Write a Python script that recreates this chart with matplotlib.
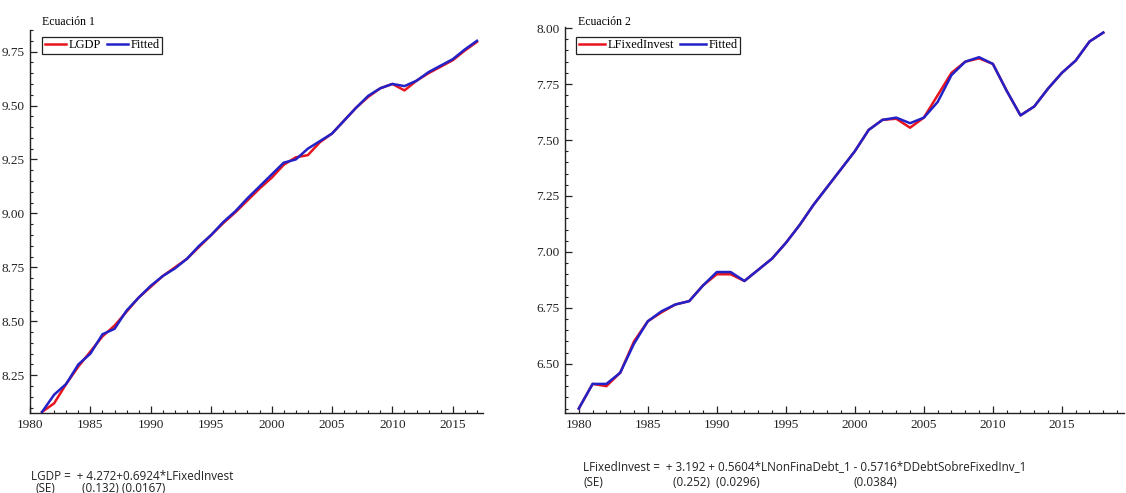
import numpy as np
import matplotlib
matplotlib.use("Agg")
import matplotlib.pyplot as plt
from matplotlib.ticker import MultipleLocator

# Ecuacion 1: LGDP vs fitted
years1 = list(range(1981, 2018))
lgdp = [8.08, 8.12, 8.21, 8.29, 8.36, 8.43, 8.48, 8.545, 8.61, 8.66,
        8.71, 8.75, 8.79, 8.845, 8.90, 8.955, 9.005, 9.06, 9.115, 9.165,
        9.225, 9.26, 9.27, 9.33, 9.37, 9.43, 9.49, 9.54, 9.58, 9.60,
        9.57, 9.615, 9.65, 9.68, 9.71, 9.755, 9.795]
fit1 = [8.08, 8.16, 8.21, 8.30, 8.35, 8.44, 8.465, 8.55, 8.61, 8.665,
        8.71, 8.745, 8.79, 8.85, 8.90, 8.96, 9.01, 9.07, 9.125, 9.18,
        9.235, 9.25, 9.30, 9.335, 9.37, 9.43, 9.49, 9.545, 9.58, 9.60,
        9.59, 9.615, 9.655, 9.685, 9.715, 9.76, 9.80]

# Ecuacion 2: LFixedInvest vs fitted
years2 = list(range(1980, 2019))
lfixed = [6.30, 6.41, 6.40, 6.46, 6.60, 6.69, 6.73, 6.765, 6.78, 6.85,
          6.90, 6.90, 6.87, 6.92, 6.97, 7.04, 7.12, 7.21, 7.29, 7.37,
          7.45, 7.545, 7.59, 7.595, 7.555, 7.60, 7.70, 7.80, 7.85, 7.865,
          7.84, 7.72, 7.61, 7.65, 7.73, 7.80, 7.855, 7.94, 7.98]
fit2 = [6.30, 6.41, 6.41, 6.46, 6.59, 6.69, 6.735, 6.765, 6.78, 6.85,
        6.91, 6.91, 6.87, 6.92, 6.97, 7.04, 7.12, 7.21, 7.29, 7.37,
        7.45, 7.545, 7.59, 7.60, 7.575, 7.60, 7.67, 7.79, 7.85, 7.87,
        7.84, 7.72, 7.61, 7.65, 7.73, 7.80, 7.855, 7.94, 7.98]

red = "#e8141e"
blue = "#2222c8"
serif = "Liberation Serif"
sans = "Open Sans"
ink = "#222222"

W, H = 1126, 493
fig = plt.figure(figsize=(W / 100, H / 100), dpi=100)
fig.patch.set_facecolor("white")


def setup(ax, xlim, ylim, yticks):
    ax.set_xlim(*xlim)
    ax.set_ylim(*ylim)
    for s in ["top", "right"]:
        ax.spines[s].set_visible(False)
    for s in ["left", "bottom"]:
        ax.spines[s].set_linewidth(1.0)
        ax.spines[s].set_color(ink)
    ax.xaxis.set_major_locator(MultipleLocator(5))
    ax.xaxis.set_minor_locator(MultipleLocator(1))
    ax.set_yticks(yticks)
    ax.yaxis.set_minor_locator(MultipleLocator(0.05))
    ax.yaxis.set_major_formatter(matplotlib.ticker.FormatStrFormatter("%.2f"))
    ax.tick_params(which="major", direction="in", length=5, width=0.9,
                   labelsize=9.5, pad=4, colors=ink)
    ax.tick_params(which="minor", direction="in", length=2.5, width=0.8,
                   colors=ink)
    for lab in ax.get_xticklabels() + ax.get_yticklabels():
        lab.set_fontfamily(serif)


# left panel
ax1 = fig.add_axes([30 / W, 80 / H, 453 / W, 383 / H])
ax1.plot(years1, lgdp, color=red, lw=1.8, label="LGDP", clip_on=False)
ax1.plot(years1, fit1, color=blue, lw=1.8, label="Fitted", clip_on=False)
setup(ax1, (1980, 2017.5), (8.075, 9.85),
      [8.25, 8.50, 8.75, 9.00, 9.25, 9.50, 9.75])

# right panel
ax2 = fig.add_axes([565 / W, 80 / H, 559 / W, 386 / H])
ax2.plot(years2, lfixed, color=red, lw=1.8, label="LFixedInvest", clip_on=False)
ax2.plot(years2, fit2, color=blue, lw=1.8, label="Fitted", clip_on=False)
setup(ax2, (1979, 2019.5), (6.28, 8.005),
      [6.50, 6.75, 7.00, 7.25, 7.50, 7.75, 8.00])

# titles
fig.text(42 / W, 1 - 22 / H, "Ecuación 1", family=serif, fontsize=8.5, va="center")
fig.text(578 / W, 1 - 22 / H, "Ecuación 2", family=serif, fontsize=8.5, va="center")

# legends
for ax, x0, hl in ((ax1, 42, 1.7), (ax2, 576, 2.1)):
    leg = ax.legend(loc="upper left", bbox_to_anchor=(x0 / W, 1 - 37 / H),
                    bbox_transform=fig.transFigure, ncol=2, fancybox=False,
                    framealpha=1, edgecolor=ink, borderpad=0.2,
                    handlelength=hl, handletextpad=0.2, columnspacing=0.5,
                    borderaxespad=0, prop={"family": serif, "size": 9})
    leg.get_frame().set_linewidth(0.9)

# equations under the charts
fs = 8.4
fig.text(31 / W, 1 - 477 / H, "LGDP =  + 4.272+0.6924*LFixedInvest",
         family=sans, fontsize=fs, va="center", color=ink)
fig.text(35 / W, 1 - 488 / H, "(SE)", family=sans, fontsize=fs, va="center", color=ink)
fig.text(82 / W, 1 - 488 / H, "(0.132) (0.0167)", family=sans, fontsize=fs,
         va="center", color=ink)

fig.text(583 / W, 1 - 467 / H,
         "LFixedInvest =  + 3.192 + 0.5604*LNonFinaDebt_1 - 0.5716*DDebtSobreFixedInv_1",
         family=sans, fontsize=fs, va="center", color=ink)
fig.text(583 / W, 1 - 482 / H, "(SE)", family=sans, fontsize=fs, va="center", color=ink)
fig.text(673 / W, 1 - 482 / H, "(0.252)  (0.0296)", family=sans, fontsize=fs,
         va="center", color=ink)
fig.text(853 / W, 1 - 482 / H, "(0.0384)", family=sans, fontsize=fs,
         va="center", color=ink)

fig.savefig("out.png", dpi=100)
